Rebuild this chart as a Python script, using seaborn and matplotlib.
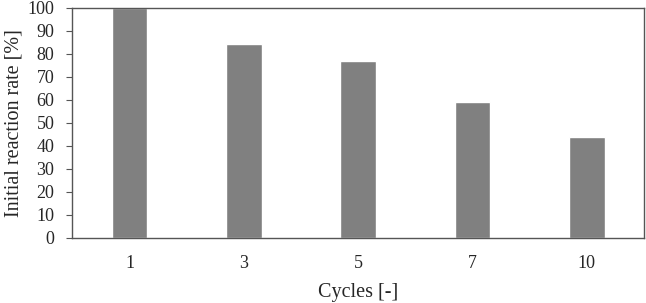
import pandas as pd
import matplotlib
matplotlib.use("Agg")
import matplotlib.pyplot as plt
import seaborn as sns

# Values
cycles = ["1", "3", "5", "7", "10"]
rates = [100, 84, 77, 59, 44]

df = pd.DataFrame({"Cycles": cycles, "Rate": rates})

sns.set_style("white")
plt.rcParams["font.family"] = ["Liberation Serif", "DejaVu Serif"]

fig, ax = plt.subplots(figsize=(6.46, 3.03), dpi=100)
sns.barplot(data=df, x="Cycles", y="Rate", color="#808080", saturation=1,
            width=0.31, ax=ax)

ax.set_ylim(0, 100)
ax.set_yticks(range(0, 101, 10))
ax.set_xlabel("Cycles [-]", fontsize=14.5, labelpad=8)
ax.set_ylabel("Initial reaction rate [%]", fontsize=14.5, labelpad=3)
ax.tick_params(axis="y", labelsize=13, length=4, pad=9, direction="out", left=True, color="#555555")
ax.tick_params(axis="x", labelsize=13, length=0, pad=12)
for s in ax.spines.values():
    s.set_color("#555555")
    s.set_linewidth(1)

fig.subplots_adjust(left=0.112, right=0.997, top=0.975, bottom=0.215)
fig.savefig("out.png", dpi=100)
